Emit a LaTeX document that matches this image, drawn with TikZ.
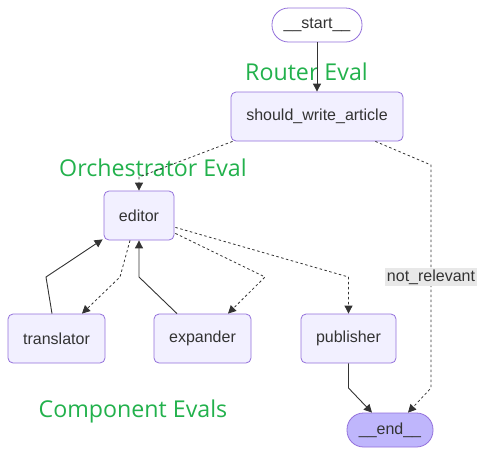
\documentclass[tikz,border=0pt]{standalone}
\usepackage{fontspec}
\setmainfont{Liberation Sans}
\newfontfamily\evalfont{Open Sans}
\usetikzlibrary{arrows.meta}
\definecolor{nodefill}{HTML}{F2F0FF}
\definecolor{nodestroke}{HTML}{9370DB}
\definecolor{endfill}{HTML}{BFB6FC}
\definecolor{edgecol}{HTML}{333333}
\definecolor{evalgreen}{HTML}{22B14C}
\definecolor{lblbg}{HTML}{E8E8E8}
\begin{document}
\begin{tikzpicture}[x=1pt,y=-1pt,
  box/.style={draw=nodestroke, fill=nodefill, rounded corners=5pt, line width=0.8pt,
    inner sep=0pt, text=edgecol, font=\fontsize{16}{19}\selectfont, minimum height=49pt},
  pill/.style={box, rounded corners=16.5pt, minimum height=34pt},
  evallabel/.style={text=evalgreen, font=\evalfont\fontsize{23.2}{28}\selectfont, inner sep=0pt},
  solidedge/.style={draw=edgecol, line width=0.9pt, -{Triangle[length=8pt,width=8pt]}},
  dashedge/.style={draw=edgecol, line width=0.8pt, dash pattern=on 2.5pt off 2.5pt,
    -{Triangle[length=8pt,width=8pt]}},
  edgelabel/.style={fill=lblbg, text=edgecol, font=\fontsize{16}{19}\selectfont,
    inner xsep=2pt, inner ysep=2pt}
]
\useasboundingbox (0,0) rectangle (488,456);

% nodes
\node[pill, fill=white, minimum width=90pt] (start) at (317,25) {\_\_start\_\_};
\node[box, minimum width=172pt] (swa) at (317,116.5) {should\_write\_article};
\node[box, minimum width=70pt] (editor) at (139,215.5) {editor};
\node[box, minimum width=97pt] (translator) at (56.5,338.5) {translator};
\node[box, minimum width=97pt] (expander) at (202.5,338.5) {expander};
\node[box, minimum width=95pt] (publisher) at (348.5,338.5) {publisher};
\node[pill, fill=endfill, minimum width=86pt] (end) at (390,430) {\_\_end\_\_};

% eval labels
\node[evallabel] (routereval) at (306.5,72) {Router Eval};
\node[evallabel] (orcheval) at (153,168) {Orchestrator Eval};
\node[evallabel] (compeval) at (133,411) {Component Evals};

% bend coordinates
\coordinate (b1) at (139,177);
\coordinate (b2a) at (431,165);
\coordinate (b2b) at (431,388);
\coordinate (b3) at (120,277);
\coordinate (b4) at (46,277);
\coordinate (b5) at (139,277);
\coordinate (b6) at (265,277);
\coordinate (b7) at (348.5,277);
\coordinate (b8) at (348.5,388);

% edges
\draw[solidedge] (start) -- (swa);
\draw[dashedge] ([xshift=2pt]swa.south west) -- (b1) -- (editor.north);
\draw[dashedge] ([xshift=-28pt]swa.south east) -- (b2a) -- (b2b) -- ([xshift=18pt]end.north);
\node[edgelabel] (nr) at (431,277) {not\_relevant};
\draw[dashedge] ([xshift=-9pt]editor.south) -- (b3) -- ([xshift=25.5pt]translator.north);
\draw[solidedge] ([xshift=-4.5pt]translator.north) -- (b4) -- ([xshift=-1pt,yshift=1pt]editor.south west);
\draw[solidedge] ([xshift=-25.5pt]expander.north) -- (b5) -- (editor.south);
\draw[dashedge] ([xshift=1pt,yshift=7pt]editor.south east) -- (b6) -- ([xshift=25.5pt]expander.north);
\draw[dashedge] ([xshift=1pt,yshift=13pt]editor.south east) -- (b7) -- (publisher.north);
\draw[solidedge] (publisher.south) -- (b8) -- ([xshift=-18pt]end.north);
\end{tikzpicture}
\end{document}
